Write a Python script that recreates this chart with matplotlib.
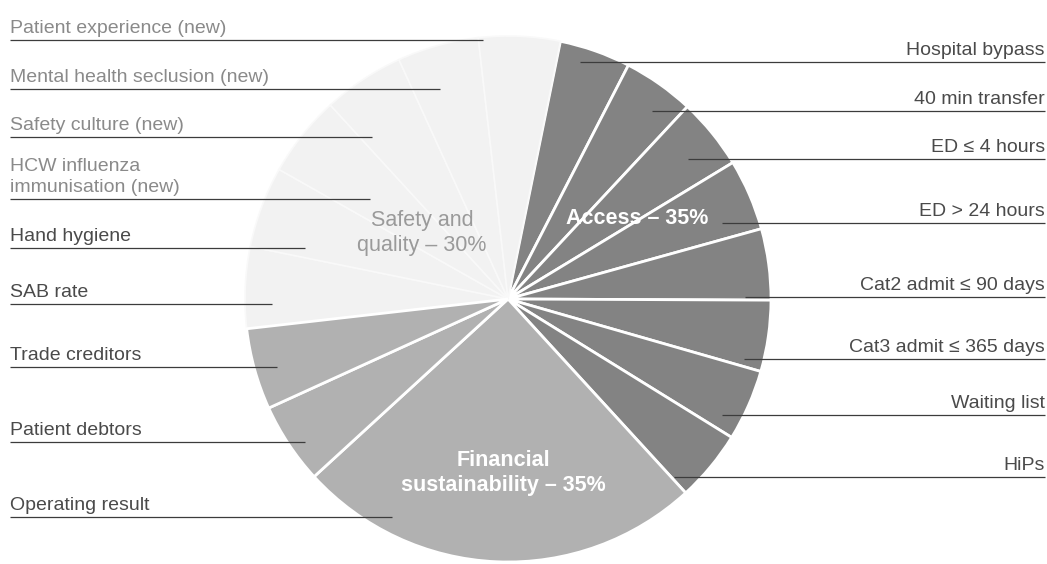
import matplotlib
matplotlib.use("Agg")
import matplotlib.pyplot as plt

plt.rcParams['font.family'] = ['Liberation Sans', 'DejaVu Sans']

# ---------------- data ----------------
access_labels = ["Hospital bypass", "40 min transfer", "ED \u2264 4 hours", "ED > 24 hours",
                 "Cat2 admit \u2264 90 days", "Cat3 admit \u2264 365 days", "Waiting list", "HiPs"]
access_values = [4.375] * 8

financial_labels = ["Operating result", "Patient debtors", "Trade creditors"]
financial_values = [25, 5, 5]

safety_labels = ["SAB rate", "Hand hygiene", "HCW influenza\nimmunisation (new)",
                 "Safety culture (new)", "Mental health seclusion (new)", "Patient experience (new)"]
safety_values = [5, 5, 5, 5, 5, 5]

category_names = ["Access \u2013 35%", "Financial\nsustainability \u2013 35%", "Safety and\nquality \u2013 30%"]

# ---------------- layout (image pixel coords) ----------------
W, H = 1047, 564
cx, cy, R = 508, 299, 263

right_line_y = [62, 111, 159, 223, 297, 359, 415, 477]
right_line_x0 = [580, 652, 688, 722, 745, 744, 722, 674]

left_line_y = [517, 442, 367, 304, 248, 199, 137, 89, 40]      # financial then safety
left_line_x1 = [392, 305, 277, 272, 305, 370, 372, 440, 483]
left_colors = ["#4a4a4a", "#4a4a4a", "#4a4a4a", "#4a4a4a", "#4a4a4a",
               "#8a8a8a", "#8a8a8a", "#8a8a8a", "#8a8a8a"]

c_access, c_fin, c_safe = "#838383", "#b1b1b1", "#f2f2f2"

fig = plt.figure(figsize=(W / 100, H / 100), dpi=100)
ax = fig.add_axes([0, 0, 1, 1])

values = access_values + financial_values + safety_values
colors = [c_access] * len(access_values) + [c_fin] * len(financial_values) + [c_safe] * len(safety_values)

wedges, _ = ax.pie(values, colors=colors, startangle=90 - 11.5, counterclock=False,
                   center=(cx, H - cy), radius=R,
                   wedgeprops=dict(edgecolor="white", linewidth=2.0))
n_other = len(access_values) + len(financial_values)
for w in wedges[n_other:]:
    w.set_edgecolor("#f9f9f9")
    w.set_linewidth(1.2)
# keep the separating edge between financial and safety clearly white
wedges[n_other - 1].set_zorder(3)

ax.set_xlim(0, W)
ax.set_ylim(0, H)
ax.set_aspect("equal")
ax.axis("off")

fs = 14
line_kw = dict(color="#3c3c3c", linewidth=0.9, solid_capstyle="butt")

# right labels
for lab, ly, x0 in zip(access_labels, right_line_y, right_line_x0):
    ax.plot([x0, 1045], [H - ly, H - ly], zorder=5, **line_kw)
    ax.text(1045, H - ly + 7, lab, ha="right", va="baseline", fontsize=fs, color="#4a4a4a")

# left labels
left_labels = financial_labels + safety_labels
for lab, ly, x1, col in zip(left_labels, left_line_y, left_line_x1, left_colors):
    ax.plot([10, x1], [H - ly, H - ly], zorder=5, **line_kw)
    ax.text(10, H - ly + 7, lab, ha="left", va="baseline", fontsize=fs, color=col,
            linespacing=1.3)

# category labels
ax.text(637, H - 218, category_names[0], ha="center", va="center", fontsize=15.5,
        fontweight="bold", color="white", zorder=6)
ax.text(503, H - 473, category_names[1], ha="center", va="center", fontsize=15.5,
        fontweight="bold", color="white", linespacing=1.2, zorder=6)
ax.text(422, H - 233, category_names[2], ha="center", va="center", fontsize=15.5,
        color="#9a9a9a", linespacing=1.2, zorder=6)

fig.savefig("out.png", dpi=100, facecolor="white")
